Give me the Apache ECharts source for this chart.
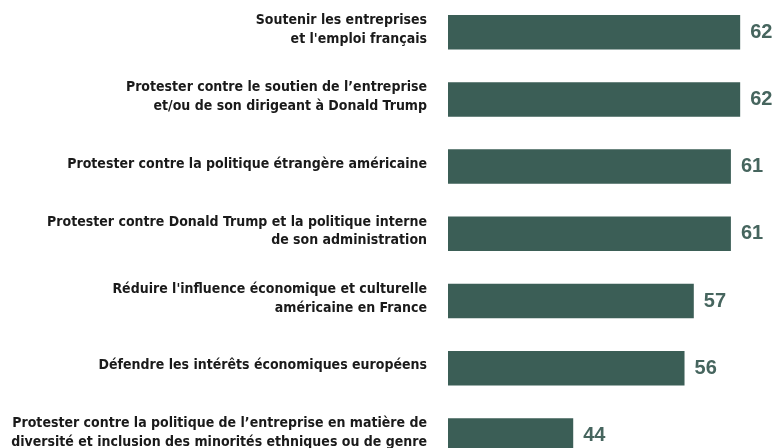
<!DOCTYPE html>
<html>
<head>
<meta charset="utf-8">
<style>
  html, body { margin: 0; padding: 0; background: #ffffff; }
  #chart { width: 776px; height: 448px; }
</style>
<script src="https://cdn.jsdelivr.net/npm/echarts@6/dist/echarts.min.js"></script>
</head>
<body>
<div id="chart"></div>
<script>
// Motivations, top to bottom
const categories = [
  "Soutenir les entreprises\net l'emploi français",
  "Protester contre le soutien de l\u2019entreprise\net/ou de son dirigeant à Donald Trump",
  "Protester contre la politique étrangère américaine",
  "Protester contre Donald Trump et la politique interne\nde son administration",
  "Réduire l'influence économique et culturelle\naméricaine en France",
  "Défendre les intérêts économiques européens",
  "Protester contre la politique de l\u2019entreprise en matière de\ndiversité et inclusion des minorités ethniques ou de genre"
];
const values = [62, 62, 61, 61, 57, 56, 44];

// Value scale is truncated on the left
const axisMin = 30.5;
const axisMax = 65;

const labelFont = '"DejaVu Sans Condensed", "Liberation Sans Narrow", sans-serif';

const chart = echarts.init(document.getElementById('chart'), null, { renderer: 'canvas' });

chart.setOption({
  backgroundColor: '#ffffff',
  animation: false,
  grid: {
    left: 448, top: -1.4, width: 320, height: 470.4,
    containLabel: false,
    outerBoundsMode: 'none'
  },
  xAxis: {
    type: 'value',
    min: axisMin,
    max: axisMax,
    show: false
  },
  yAxis: {
    type: 'category',
    inverse: true,
    data: categories,
    axisLine: { show: false },
    axisTick: { show: false },
    axisLabel: {
      margin: 21,
      align: 'right',
      // each text line as a rich token, plus a thin spacer line that lifts the block a little
      formatter: v => v.split('\n').map(line => '{t|' + line + '}').join('\n') + '\n{s| }',
      rich: {
        t: {
          color: '#1a1a1a',
          fontFamily: labelFont,
          fontWeight: 'bold',
          fontSize: 14,
          lineHeight: 18.8,
          align: 'right'
        },
        s: { fontSize: 1, lineHeight: 5 }
      }
    }
  },
  series: [{
    type: 'bar',
    data: values,
    barWidth: 34.5,
    clip: true,
    itemStyle: { color: '#3b5e56' },
    label: {
      show: true,
      position: 'right',
      distance: 10,
      color: '#46655e',
      fontFamily: '"Liberation Sans", Arial, sans-serif',
      fontWeight: 'bold',
      fontSize: 20
    }
  }]
});
</script>
</body>
</html>
